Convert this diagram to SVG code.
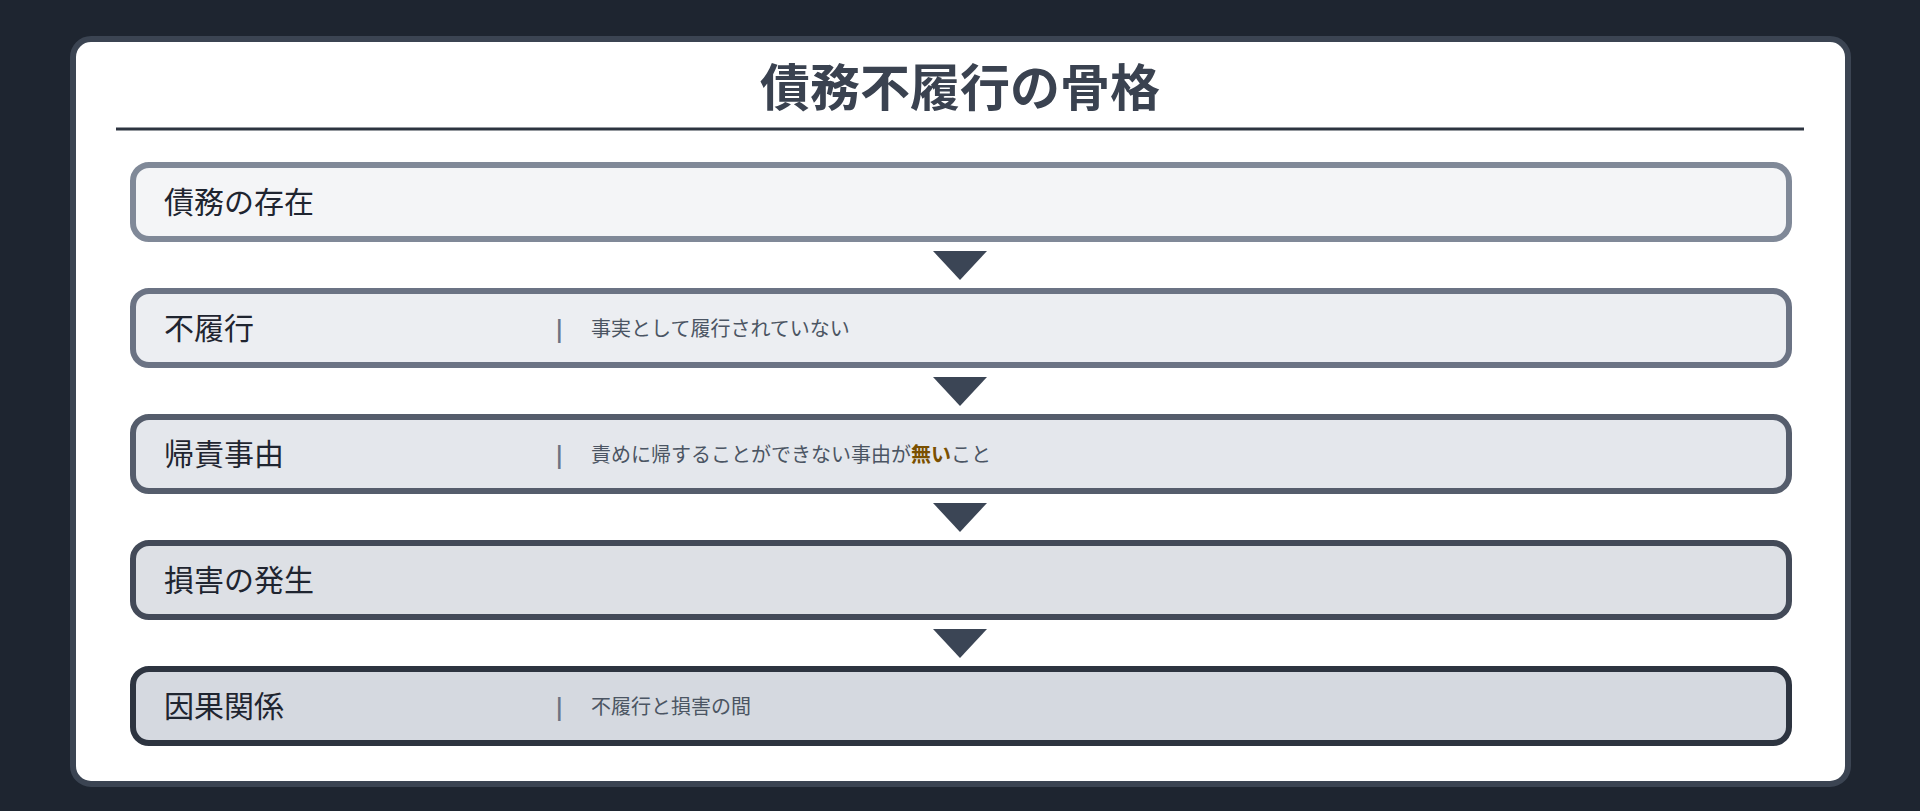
<svg xmlns="http://www.w3.org/2000/svg" width="1920" height="811" viewBox="0 0 1920 811">
<style>
.lbl{font-family:"Noto Sans CJK JP","Noto Sans",sans-serif;font-size:30px;fill:#1f2530}
.sep{font-family:"Noto Sans CJK JP","Noto Sans",sans-serif;font-size:21px;font-weight:900;fill:#6b7384}
.desc{font-family:"Noto Sans CJK JP","Noto Sans",sans-serif;font-size:20px;fill:#4b5563}
.em{font-weight:bold;fill:#7a5000}
.title{font-family:"Noto Sans CJK JP","Noto Sans",sans-serif;font-size:50px;font-weight:bold;fill:#3a4250}
.box{stroke-width:6}
.tri{fill:#3b4555}
</style>
<rect x="0" y="0" width="1920" height="811" fill="#1e2530"/>
<rect id="panel" x="73" y="39" width="1775" height="745" rx="18" fill="#ffffff" stroke="#3b4452" stroke-width="6"/>
<g id="title">
<text class="title" x="960" y="106" text-anchor="middle">債務不履行の骨格</text>
<rect x="116" y="127.5" width="1688" height="3" fill="#2d3440"/>
</g>
<g id="connectors">
<polygon class="tri" points="933,251 987,251 960,280"/>
<polygon class="tri" points="933,377 987,377 960,406"/>
<polygon class="tri" points="933,503 987,503 960,532"/>
<polygon class="tri" points="933,629 987,629 960,658"/>
</g>
<g id="node1">
<rect class="box" x="133" y="165" width="1656" height="74" rx="16" fill="#f4f5f7" stroke="#808998"/>
<text class="lbl" x="164" y="213">債務の存在</text>
</g>
<g id="node2">
<rect class="box" x="133" y="291" width="1656" height="74" rx="16" fill="#eceef2" stroke="#6b7384"/>
<text class="lbl" x="164" y="339">不履行</text>
<text class="sep" x="556" y="337">|</text>
<text class="desc" x="591" y="336">事実として履行されていない</text>
</g>
<g id="node3">
<rect class="box" x="133" y="417" width="1656" height="74" rx="16" fill="#e4e7ec" stroke="#555d6c"/>
<text class="lbl" x="164" y="465">帰責事由</text>
<text class="sep" x="556" y="463">|</text>
<text class="desc" x="591" y="462">責めに帰することができない事由が<tspan class="em">無い</tspan>こと</text>
</g>
<g id="node4">
<rect class="box" x="133" y="543" width="1656" height="74" rx="16" fill="#dde0e5" stroke="#434a58"/>
<text class="lbl" x="164" y="591">損害の発生</text>
</g>
<g id="node5">
<rect class="box" x="133" y="669" width="1656" height="74" rx="16" fill="#d5d9e0" stroke="#2d3440"/>
<text class="lbl" x="164" y="717">因果関係</text>
<text class="sep" x="556" y="715">|</text>
<text class="desc" x="591" y="714">不履行と損害の間</text>
</g>
</svg>
